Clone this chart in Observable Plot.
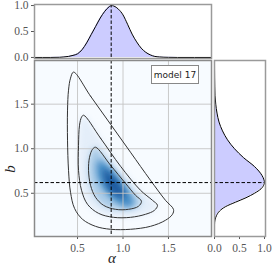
<!DOCTYPE html>
<html>
<head>
<meta charset="utf-8">
<script src="https://cdn.jsdelivr.net/npm/d3@7"></script>
<script src="https://cdn.jsdelivr.net/npm/@observablehq/plot@0.6"></script>
<style>
  html, body { margin: 0; padding: 0; background: #fff; }
  #wrap { position: relative; width: 274px; height: 268px; overflow: hidden; }
  .layer { position: absolute; }
  .lbl { position: absolute; font-family: "Liberation Serif", serif; font-style: italic; font-size: 15px; color: #222; line-height: 16px; width: 16px; height: 16px; text-align: center; }
  #legend { position: absolute; left: 151px; top: 65px; width: 46px; height: 17px; border: 1px solid #888; background: #fff;
            font-family: "DejaVu Sans", sans-serif; font-size: 9px; color: #222; display: flex; align-items: center; justify-content: center; }
</style>
</head>
<body>
<div id="wrap"></div>
<script>
// ---- data ----
const alphaMode = 0.87;
const bMode = 0.62;
const modelLabel = "model 17";
const mainTicks = [0.5, 1.0, 1.5];
const margTicks = [0.0, 0.5, 1.0];

// marginal of alpha (normalised to peak 1)
const alphaGrid = [0.03, 0.2, 0.3, 0.35, 0.4, 0.45, 0.5, 0.55, 0.6, 0.65, 0.7, 0.75, 0.8, 0.85, 0.87, 0.9, 0.95, 1.0, 1.05, 1.1, 1.15, 1.2, 1.25, 1.3, 1.35, 1.4, 1.5, 1.6, 1.97];
const alphaDens = [0, 0, 0.003, 0.01, 0.02, 0.04, 0.07, 0.15, 0.28, 0.44, 0.6, 0.76, 0.89, 0.98, 1.0, 0.99, 0.93, 0.82, 0.64, 0.45, 0.3, 0.18, 0.1, 0.05, 0.02, 0.01, 0.002, 0, 0];

// marginal of b (normalised to peak 1)
const bGrid = [0.015, 0.15, 0.2, 0.25, 0.3, 0.35, 0.4, 0.45, 0.5, 0.55, 0.6, 0.62, 0.65, 0.7, 0.8, 0.9, 1.0, 1.1, 1.2, 1.3, 1.4, 1.5, 1.6, 1.7, 1.8, 1.99];
const bDens = [0, 0, 0.01, 0.04, 0.1, 0.22, 0.42, 0.63, 0.8, 0.93, 0.99, 1.0, 0.99, 0.95, 0.8, 0.58, 0.4, 0.26, 0.16, 0.09, 0.05, 0.025, 0.01, 0.005, 0.002, 0];

// contour lines [alpha, b]
const contourOuter = [[0.456,1.860],[0.643,1.590],[0.863,1.275],[1.082,0.961],[1.302,0.646],[1.467,0.421],[1.555,0.320],[1.544,0.264],[1.467,0.197],[1.302,0.129],[1.082,0.096],[0.863,0.096],[0.698,0.129],[0.555,0.208],[0.467,0.331],[0.423,0.511],[0.401,0.758],[0.390,1.096],[0.390,1.433],[0.401,1.657],[0.423,1.792]];
const contourMiddle = [[0.566,1.376],[0.753,1.118],[0.973,0.803],[1.192,0.534],[1.324,0.421],[1.379,0.365],[1.346,0.309],[1.247,0.264],[1.082,0.230],[0.896,0.230],[0.731,0.275],[0.610,0.376],[0.544,0.534],[0.511,0.758],[0.511,1.039],[0.522,1.264],[0.544,1.354]];
const contourInner = [[0.698,1.017],[0.863,0.815],[1.027,0.612],[1.137,0.478],[1.203,0.410],[1.170,0.354],[1.060,0.320],[0.918,0.320],[0.786,0.365],[0.698,0.455],[0.643,0.590],[0.621,0.758],[0.632,0.904],[0.665,0.994]];
// density shading cores [alpha, b]
const coreOuter = [[0.731,0.870],[0.819,0.820],[0.935,0.690],[1.050,0.534],[1.120,0.395],[1.070,0.345],[0.973,0.375],[0.860,0.465],[0.765,0.585],[0.712,0.735]];
const coreInner = [[0.790,0.775],[0.885,0.700],[0.980,0.580],[1.030,0.460],[0.955,0.455],[0.860,0.525],[0.800,0.650]];

const xDomain = [0.027, 1.973];
const yDomain = [0.015, 1.99];

const alphaData = alphaGrid.map((a, i) => ({a, p: alphaDens[i]}));
const bData = bGrid.map((b, i) => ({b, p: bDens[i]}));

const wrap = document.getElementById("wrap");
function place(el, left, topPx) {
  const d = document.createElement("div");
  d.className = "layer";
  d.style.left = left + "px";
  d.style.top = topPx + "px";
  d.appendChild(el);
  wrap.appendChild(d);
  return d;
}
const axStyle = {fontFamily: "Liberation Serif, serif", fontSize: "11.5px", color: "#555", background: "transparent", overflow: "visible"};
const dash = "3.5,2";
const px = d => d[0], py = d => d[1];

// ---- heat layer (blurred) ----
const heatPlot = Plot.plot({
  width: 215, height: 213,
  marginLeft: 34, marginRight: 4, marginTop: 5, marginBottom: 32,
  x: {domain: xDomain, axis: null},
  y: {domain: yDomain, axis: null},
  style: axStyle,
  marks: [
    Plot.frame({fill: "#f7fbff", stroke: "none"}),
    Plot.line(contourMiddle, {x: px, y: py, fill: "#e4eef9", stroke: "none", curve: "catmull-rom-closed"}),
    Plot.line(contourInner, {x: px, y: py, fill: "#a9cbe7", stroke: "none", curve: "catmull-rom-closed"}),
    Plot.line(coreOuter, {x: px, y: py, fill: "#4a8fc7", stroke: "none", curve: "catmull-rom-closed"}),
    Plot.line(coreInner, {x: px, y: py, fill: "#1a5a9f", stroke: "none", curve: "catmull-rom-closed"})
  ]
});
{
  const ns = "http://www.w3.org/2000/svg";
  const defs = document.createElementNS(ns, "defs");
  defs.innerHTML = '<filter id="heatblur" x="-50%" y="-50%" width="200%" height="200%"><feGaussianBlur stdDeviation="3.2"/></filter>';
  heatPlot.insertBefore(defs, heatPlot.firstChild);
  heatPlot.querySelectorAll("path").forEach(p => p.setAttribute("filter", "url(#heatblur)"));
}
place(heatPlot, 0, 55);

// ---- main panel ----
const mainPlot = Plot.plot({
  width: 215, height: 213,
  marginLeft: 34, marginRight: 4, marginTop: 5, marginBottom: 32,
  x: {domain: xDomain, ticks: mainTicks, tickFormat: ".1f", tickSize: 3, tickPadding: 4, label: null},
  y: {domain: yDomain, ticks: mainTicks, tickFormat: ".1f", tickSize: 3, tickPadding: 3, label: null},
  style: axStyle,
  marks: [
    Plot.ruleX(mainTicks, {stroke: "#c4c4c4", strokeWidth: 0.9}),
    Plot.ruleY(mainTicks, {stroke: "#c4c4c4", strokeWidth: 0.9}),
    Plot.line(contourOuter, {x: px, y: py, stroke: "#333", strokeWidth: 1, curve: "catmull-rom-closed"}),
    Plot.line(contourMiddle, {x: px, y: py, stroke: "#333", strokeWidth: 1, curve: "catmull-rom-closed"}),
    Plot.line(contourInner, {x: px, y: py, stroke: "#333", strokeWidth: 1, curve: "catmull-rom-closed"}),
    Plot.ruleX([alphaMode], {stroke: "#000", strokeWidth: 1, strokeDasharray: dash}),
    Plot.ruleY([bMode], {stroke: "#000", strokeWidth: 1, strokeDasharray: dash}),
    Plot.frame({stroke: "#8a8a8a", strokeWidth: 1.5})
  ]
});
place(mainPlot, 0, 55);

// ---- top marginal ----
const topPlot = Plot.plot({
  width: 215, height: 60,
  marginLeft: 34, marginRight: 4, marginTop: 4, marginBottom: 2,
  x: {domain: xDomain, axis: null},
  y: {domain: [-0.02, 1.02], ticks: margTicks, tickFormat: ".1f", tickSize: 3, tickPadding: 3, label: null},
  style: axStyle,
  marks: [
    Plot.areaY(alphaData, {x: "a", y: "p", fill: "#ccccff", curve: "monotone-x"}),
    Plot.line(alphaData, {x: "a", y: "p", stroke: "#000", strokeWidth: 1, curve: "monotone-x"}),
    Plot.ruleX([alphaMode], {y1: 0, y2: 1, stroke: "#000", strokeWidth: 1, strokeDasharray: dash}),
    Plot.frame({stroke: "#9a9a9a", strokeWidth: 1.5})
  ]
});
place(topPlot, 0, 0);

// ---- right marginal ----
const rightPlot = Plot.plot({
  width: 63, height: 213,
  marginLeft: 3, marginRight: 9, marginTop: 5, marginBottom: 32,
  x: {domain: [0, 1.02], ticks: margTicks, tickFormat: ".1f", tickSize: 3, tickPadding: 4, label: null},
  y: {domain: yDomain, axis: null},
  style: axStyle,
  marks: [
    Plot.areaX(bData, {y: "b", x: "p", fill: "#ccccff", curve: "monotone-y"}),
    Plot.line(bData, {y: "b", x: "p", stroke: "#000", strokeWidth: 1, curve: "monotone-y"}),
    Plot.ruleY([bMode], {x1: 0, x2: 1, stroke: "#000", strokeWidth: 1, strokeDasharray: dash}),
    Plot.frame({stroke: "#9a9a9a", strokeWidth: 1.5})
  ]
});
place(rightPlot, 211, 55);

// ---- labels ----
const la = document.createElement("div");
la.className = "lbl"; la.textContent = "α";
la.style.left = "104px"; la.style.top = "250px";
wrap.appendChild(la);
const lb = document.createElement("div");
lb.className = "lbl"; lb.textContent = "b";
lb.style.left = "2px"; lb.style.top = "161px"; lb.style.transform = "rotate(-90deg)";
wrap.appendChild(lb);
const lg = document.createElement("div");
lg.id = "legend"; lg.textContent = modelLabel;
wrap.appendChild(lg);
</script>
</body>
</html>
